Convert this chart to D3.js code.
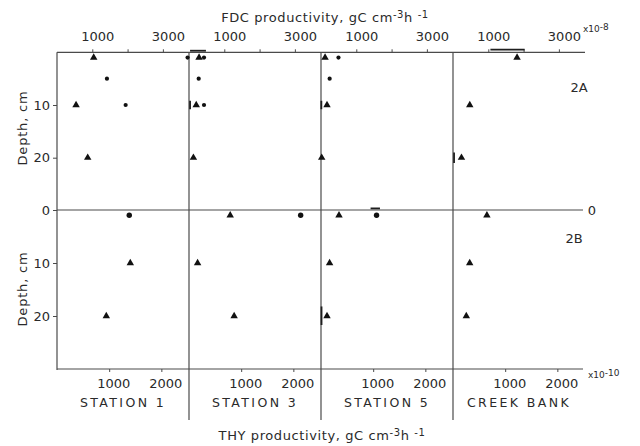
<!DOCTYPE html>
<html>
<head>
<meta charset="utf-8">
<script src="https://cdn.jsdelivr.net/npm/d3@7/dist/d3.min.js"></script>
<style>
  html, body { margin: 0; padding: 0; background: #fff; }
  svg { display: block; }
  text { font-family: "DejaVu Sans", sans-serif; fill: #2a2a2a; }
</style>
</head>
<body>
<svg id="chart" width="640" height="446"></svg>
<script>
// Sampling sites, one column each
const stations = ["STATION 1", "STATION 3", "STATION 5", "CREEK BANK"];

// Axis ticks
const fdcTicks = [1000, 2000, 3000];
const fdcTickLabels = [1000, 3000];
const thyTicks = [1000, 2000];
const depthTicks = [10, 20];

// 2A: FDC productivity (x10^-8) by depth, [station, depth cm, value]
const fdcTriangles = [
  ["STATION 1", 1, 1040], ["STATION 1", 10, 540], ["STATION 1", 20, 870],
  ["STATION 3", 1, 285], ["STATION 3", 10, 205], ["STATION 3", 20, 125],
  ["STATION 5", 1, 115], ["STATION 5", 10, 170], ["STATION 5", 20, 20],
  ["CREEK BANK", 1, 1815], ["CREEK BANK", 10, 475], ["CREEK BANK", 20, 240]
];
const fdcDots = [
  ["STATION 1", 1, 3700], ["STATION 1", 5, 1415], ["STATION 1", 10, 1945],
  ["STATION 3", 1, 425], ["STATION 3", 5, 275], ["STATION 3", 10, 425],
  ["STATION 5", 1, 495], ["STATION 5", 5, 245]
];
// Range bars: horizontal [station, depth, low, high], vertical [station, value, depth low, depth high]
const fdcHBars = [["STATION 3", -0.3, 30, 480], ["CREEK BANK", -0.5, 1060, 2030]];
const fdcVBars = [["STATION 3", 30, 9.2, 10.8], ["STATION 5", 10, 9.2, 10.8], ["CREEK BANK", 30, 19, 21]];

// 2B: THY productivity (x10^-10) by depth
const thyTriangles = [
  ["STATION 1", 10, 1405], ["STATION 1", 20, 945],
  ["STATION 3", 1, 790], ["STATION 3", 10, 165], ["STATION 3", 20, 865],
  ["STATION 5", 1, 345], ["STATION 5", 10, 165], ["STATION 5", 20, 115],
  ["CREEK BANK", 1, 650], ["CREEK BANK", 10, 320], ["CREEK BANK", 20, 255]
];
const thyDots = [
  ["STATION 1", 1, 1385], ["STATION 3", 1, 2140], ["STATION 5", 1, 1065]
];
const thyHBars = [["STATION 5", -0.3, 950, 1130]];
const thyVBars = [["STATION 5", 10, 18.2, 21.7]];

const svg = d3.select("#chart");
const ink = "#4a4a4a";

// Column layout and scales
const band = d3.scaleBand().domain(stations).range([57, 585]).paddingInner(0).paddingOuter(0);
const bw = band.bandwidth();
const fdcX = d3.scaleLinear().domain([0, 3740]).range([0, bw]);
const thyX = d3.scaleLinear().domain([0, 2530]).range([0, bw]);
const yTop = d3.scaleLinear().domain([0, 30]).range([52.3, 210.4]);
const yBot = d3.scaleLinear().domain([0, 30]).range([210, 369]);
const plain = d3.format("d");

const g = svg.append("g");

// Frame lines
const line = (x1, y1, x2, y2, w, c) => g.append("line")
  .attr("x1", x1).attr("y1", y1).attr("x2", x2).attr("y2", y2)
  .attr("stroke", c || ink).attr("stroke-width", w || 1.2);
line(57, yTop(0), 585, yTop(0));
line(57, yBot(0), 583, yBot(0));
line(57, yBot(30), 583, yBot(30));
line(57, yTop(0), 57, yBot(30) + 1);
stations.slice(1).forEach(s => line(band(s), yTop(0), band(s), 420));

// Top (FDC) and bottom (THY) axes for each column
stations.forEach(s => {
  const x0 = band(s);
  const top = g.append("g").attr("transform", `translate(${x0},${yTop(0)})`)
    .call(d3.axisTop(fdcX).tickValues(fdcTicks).tickSize(3).tickPadding(8)
      .tickFormat(d => fdcTickLabels.includes(d) ? plain(d) : ""));
  top.select(".domain").remove();
  top.selectAll(".tick line").attr("stroke", ink);
  top.selectAll(".tick text").attr("dx", 5).attr("font-size", 13)
    .attr("font-family", "DejaVu Sans, sans-serif").attr("fill", "#2a2a2a");

  const bot = g.append("g").attr("transform", `translate(${x0},${yBot(30)})`)
    .call(d3.axisBottom(thyX).tickValues(thyTicks).tickSize(3).tickPadding(7)
      .tickFormat(plain));
  bot.select(".domain").remove();
  bot.selectAll(".tick line").attr("stroke", ink);
  bot.selectAll(".tick text").attr("dx", 4).attr("font-size", 13)
    .attr("font-family", "DejaVu Sans, sans-serif").attr("fill", "#2a2a2a");
});

// Depth axes
[yTop, yBot].forEach((y, i) => {
  const ax = g.append("g").attr("transform", "translate(57,0)")
    .call(d3.axisLeft(y).tickValues(i === 0 ? depthTicks : [0].concat(depthTicks))
      .tickSize(4).tickPadding(3).tickFormat(plain));
  ax.select(".domain").remove();
  ax.selectAll(".tick line").attr("stroke", ink);
  ax.selectAll(".tick text").attr("font-size", 13)
    .attr("font-family", "DejaVu Sans, sans-serif").attr("fill", "#2a2a2a");
});

// Markers
const tri = d3.symbol().type(d3.symbolTriangle).size(24);
function plot(rows, xs, ys, kind, r) {
  g.append("g").selectAll("path").data(rows).join("path")
    .attr("transform", d => `translate(${band(d[0]) + xs(d[2])},${ys(d[1])})`)
    .attr("d", kind === "tri" ? tri() : d3.symbol().type(d3.symbolCircle).size(Math.PI * r * r)())
    .attr("fill", "#111");
}
plot(fdcTriangles, fdcX, yTop, "tri");
plot(fdcDots, fdcX, yTop, "dot", 2.1);
plot(thyTriangles, thyX, yBot, "tri");
plot(thyDots, thyX, yBot, "dot", 2.7);

// Range bars
function hbars(rows, xs, ys) {
  rows.forEach(d => line(band(d[0]) + xs(d[2]), ys(d[1]), band(d[0]) + xs(d[3]), ys(d[1]), 1.8, "#1e1e1e"));
}
function vbars(rows, xs, ys) {
  rows.forEach(d => line(band(d[0]) + xs(d[1]), ys(d[2]), band(d[0]) + xs(d[1]), ys(d[3]), 1.8, "#1e1e1e"));
}
hbars(fdcHBars, fdcX, yTop);
vbars(fdcVBars, fdcX, yTop);
hbars(thyHBars, thyX, yBot);
vbars(thyVBars, thyX, yBot);

// Titles with superscripts
function title(x, y, name) {
  const t = svg.append("text").attr("x", x).attr("y", y).attr("font-size", 13)
    .attr("letter-spacing", 0.6).attr("text-anchor", "middle");
  t.append("tspan").text(name + " productivity, gC  cm");
  t.append("tspan").attr("dy", -4).attr("font-size", 10).text("-3");
  t.append("tspan").attr("dy", 4).text("h ");
  t.append("tspan").attr("dy", -4).attr("font-size", 10).text("-1");
}
title(325, 22, "FDC");
title(322, 440, "THY");

// Scale multipliers
const mult = (x, y, exp) => {
  const t = svg.append("text").attr("x", x).attr("y", y).attr("font-size", 9);
  t.append("tspan").text("x10");
  t.append("tspan").attr("dy", -2).text(exp);
};
mult(583, 32, "-8");
mult(588, 378, "-10");

// Column names
stations.forEach(s => {
  svg.append("text").attr("x", band(s) + bw / 2)
    .attr("y", 407).attr("text-anchor", "middle").attr("font-size", 12.5)
    .attr("letter-spacing", 2.4).text(s);
});

// Panel tags and depth titles
svg.append("text").attr("x", 579).attr("y", 92).attr("text-anchor", "middle").attr("font-size", 13).text("2A");
svg.append("text").attr("x", 574).attr("y", 243).attr("text-anchor", "middle").attr("font-size", 13).text("2B");
svg.append("text").attr("x", 592).attr("y", 215).attr("text-anchor", "middle").attr("font-size", 13).text("0");
[128, 289].forEach(cy => {
  svg.append("text").attr("transform", `translate(27,${cy}) rotate(-90)`)
    .attr("text-anchor", "middle").attr("font-size", 13).attr("letter-spacing", 0.8).text("Depth, cm");
});
</script>
</body>
</html>
